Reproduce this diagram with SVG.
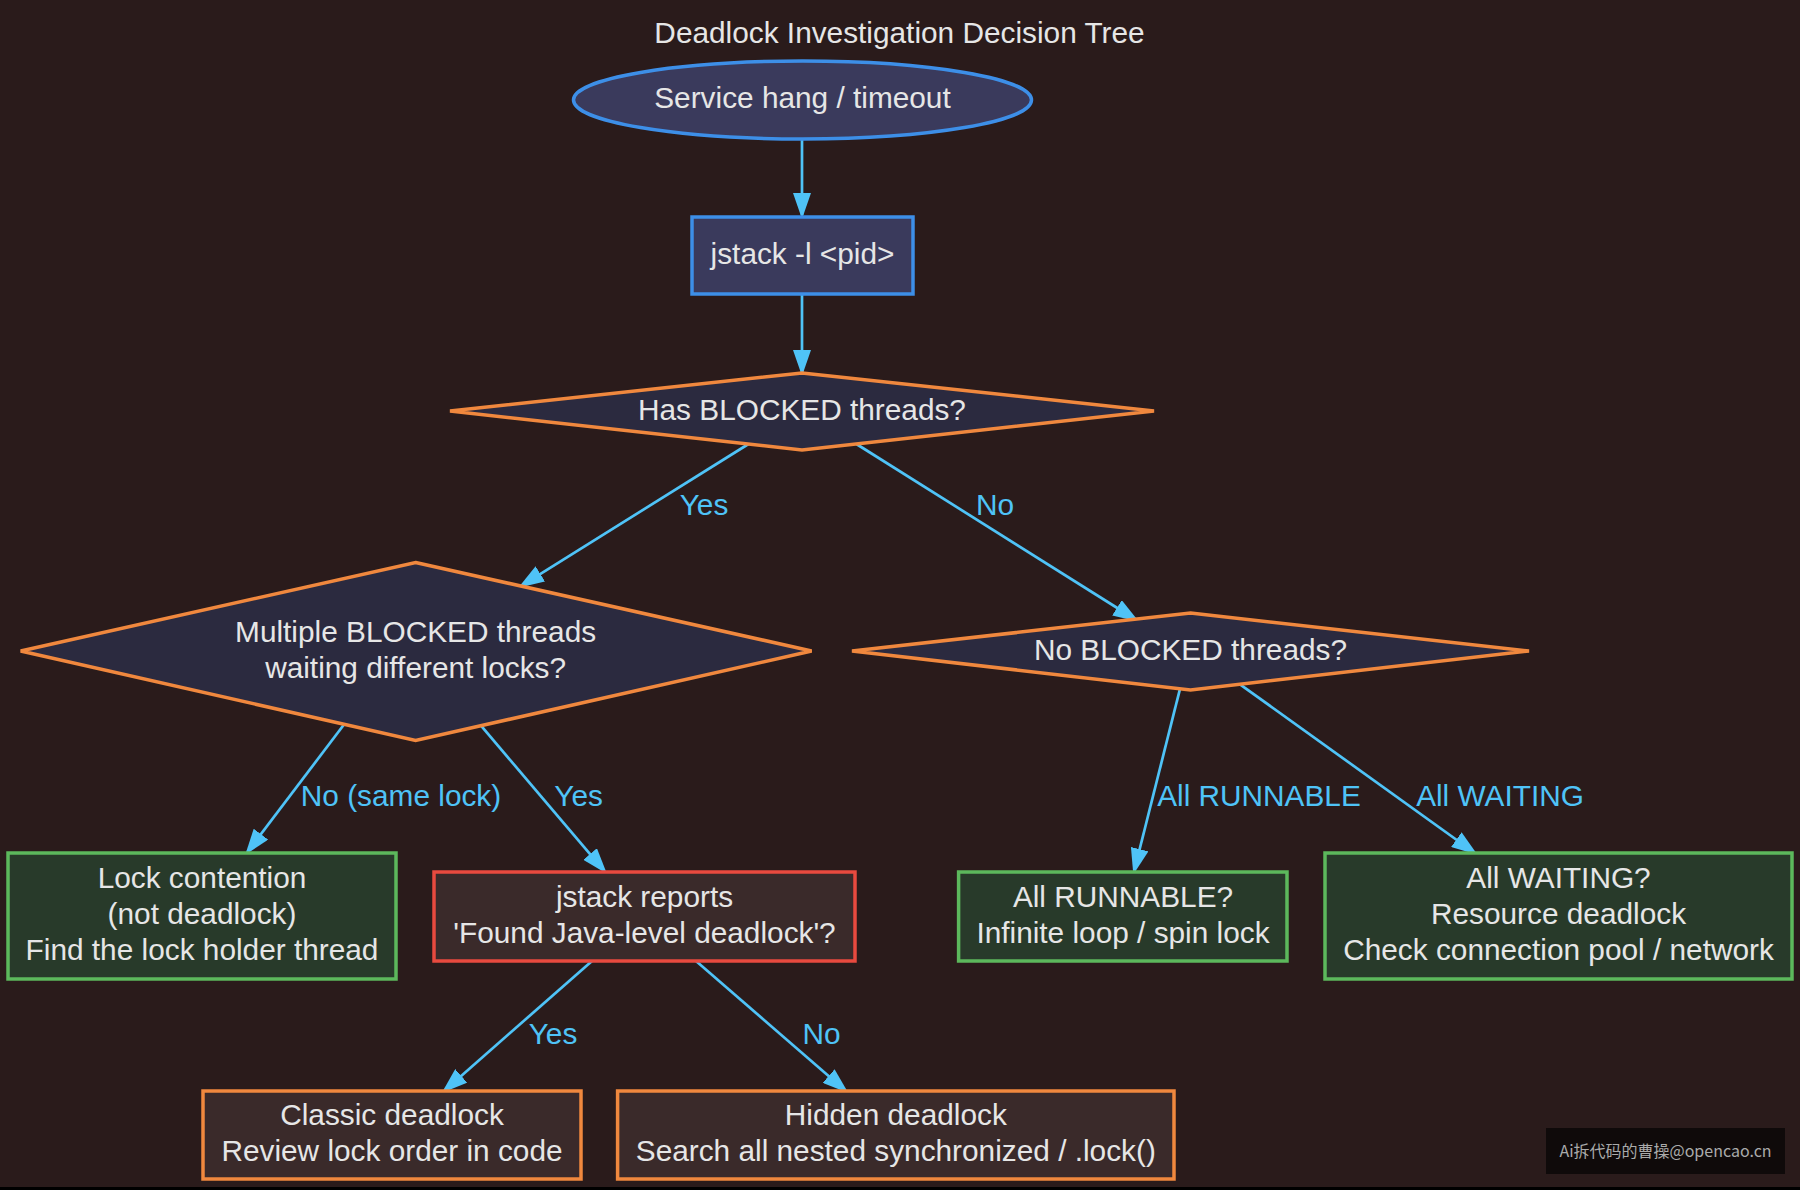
<svg xmlns="http://www.w3.org/2000/svg" width="1800" height="1190" viewBox="0 0 1800 1190">
<defs>
<style>
.t{font-family:"Liberation Sans",Arial,Helvetica,sans-serif;font-size:29.8px;fill:#e6e6e6;text-anchor:middle}
.lbl{font-family:"Liberation Sans",Arial,Helvetica,sans-serif;font-size:29.8px;fill:#4fc3f7;text-anchor:middle}
.edge{stroke:#4fc3f7;stroke-width:2.7;fill:none;marker-end:url(#arr)}
.blue{fill:#3a3a5c;stroke:#3d8fe8;stroke-width:3.5}
.dia{fill:#2b2a3f;stroke:#f0883e;stroke-width:3.5}
.green{fill:#283a2a;stroke:#5cb85c;stroke-width:3.5}
.red{fill:#3a2a2a;stroke:#e84a3f;stroke-width:3.5}
.orange{fill:#3a2a2a;stroke:#f0883e;stroke-width:3.5}
</style>
<marker id="arr" markerUnits="userSpaceOnUse" viewBox="0 0 26 18" markerWidth="26" markerHeight="18" refX="22" refY="9" orient="auto">
<path d="M0,0 L26,9 L0,18 z" fill="#4fc3f7"/>
</marker>
</defs>
<rect width="1800" height="1190" fill="#2a1b1b"/>
<rect x="0" y="1187" width="1800" height="3" fill="#000"/>
<text class="t" x="899.5" y="43">Deadlock Investigation Decision Tree</text>

<g id="edges">
<line class="edge" x1="802" y1="139" x2="802" y2="215"/>
<line class="edge" x1="802" y1="294" x2="802" y2="372"/>
<line class="edge" x1="748.5" y1="444" x2="521.7" y2="585.6"/>
<line class="edge" x1="856.4" y1="444" x2="1135.6" y2="619.5"/>
<line class="edge" x1="344" y1="724.5" x2="247.6" y2="851.7"/>
<line class="edge" x1="481" y1="725.7" x2="604.3" y2="870.8"/>
<line class="edge" x1="1180" y1="688.8" x2="1134.3" y2="870.5"/>
<line class="edge" x1="1240" y1="684.3" x2="1474.2" y2="852.5"/>
<line class="edge" x1="592" y1="961" x2="444.7" y2="1090.4"/>
<line class="edge" x1="696" y1="961" x2="845.3" y2="1090.4"/>
<text class="lbl" x="704" y="515">Yes</text>
<text class="lbl" x="995" y="515">No</text>
<text class="lbl" x="401" y="806">No (same lock)</text>
<text class="lbl" x="578.6" y="806">Yes</text>
<text class="lbl" x="1259" y="806">All RUNNABLE</text>
<text class="lbl" x="1500" y="806">All WAITING</text>
<text class="lbl" x="553" y="1043.5">Yes</text>
<text class="lbl" x="821.5" y="1043.5">No</text>
</g>

<g id="start">
<ellipse class="blue" cx="802.5" cy="100" rx="229" ry="39"/>
<text class="t" x="802.5" y="108.3">Service hang / timeout</text>
</g>
<g id="jstack">
<rect class="blue" x="692" y="217" width="221" height="77"/>
<text class="t" x="802.5" y="264">jstack -l &lt;pid&gt;</text>
</g>
<g id="hasBlocked">
<polygon class="dia" points="802,373 1154,411 802,450 450,411"/>
<text class="t" x="802" y="420.3">Has BLOCKED threads?</text>
</g>
<g id="multiple">
<polygon class="dia" points="415.6,562.5 811.6,651 415.6,740.5 20.7,651"/>
<text class="t" x="415.6" y="641.8">Multiple BLOCKED threads</text>
<text class="t" x="415.6" y="677.8">waiting different locks?</text>
</g>
<g id="noBlocked">
<polygon class="dia" points="1190.5,613 1529,651 1190.5,690 852,651"/>
<text class="t" x="1190.5" y="660">No BLOCKED threads?</text>
</g>
<g id="contention">
<rect class="green" x="8" y="853" width="388" height="126"/>
<text class="t" x="202" y="888.3">Lock contention</text>
<text class="t" x="202" y="924.3">(not deadlock)</text>
<text class="t" x="202" y="960.3">Find the lock holder thread</text>
</g>
<g id="reports">
<rect class="red" x="434" y="872" width="421" height="89"/>
<text class="t" x="644.5" y="906.8">jstack reports</text>
<text class="t" x="644.5" y="942.8">'Found Java-level deadlock'?</text>
</g>
<g id="runnable">
<rect class="green" x="958.6" y="872" width="328.4" height="89"/>
<text class="t" x="1123" y="906.8">All RUNNABLE?</text>
<text class="t" x="1123" y="942.8">Infinite loop / spin lock</text>
</g>
<g id="waiting">
<rect class="green" x="1325" y="853" width="467" height="126"/>
<text class="t" x="1558.5" y="888.3">All WAITING?</text>
<text class="t" x="1558.5" y="924.3">Resource deadlock</text>
<text class="t" x="1558.5" y="960.3">Check connection pool / network</text>
</g>
<g id="classic">
<rect class="orange" x="203" y="1091" width="378" height="88"/>
<text class="t" x="392" y="1125.3">Classic deadlock</text>
<text class="t" x="392" y="1161.3">Review lock order in code</text>
</g>
<g id="hidden">
<rect class="orange" x="617.6" y="1091" width="556.4" height="88"/>
<text class="t" x="895.8" y="1125.3">Hidden deadlock</text>
<text class="t" x="895.8" y="1161.3">Search all nested synchronized / .lock()</text>
</g>

<g id="watermark">
<rect x="1546" y="1128" width="239" height="46" fill="#0f0a0a"/>
<text x="1665.5" y="1157" font-family="'Noto Sans CJK SC','Liberation Sans',sans-serif" font-size="16" fill="#aaaaaa" text-anchor="middle">Ai拆代码的曹操@opencao.cn</text>
</g>
</svg>
